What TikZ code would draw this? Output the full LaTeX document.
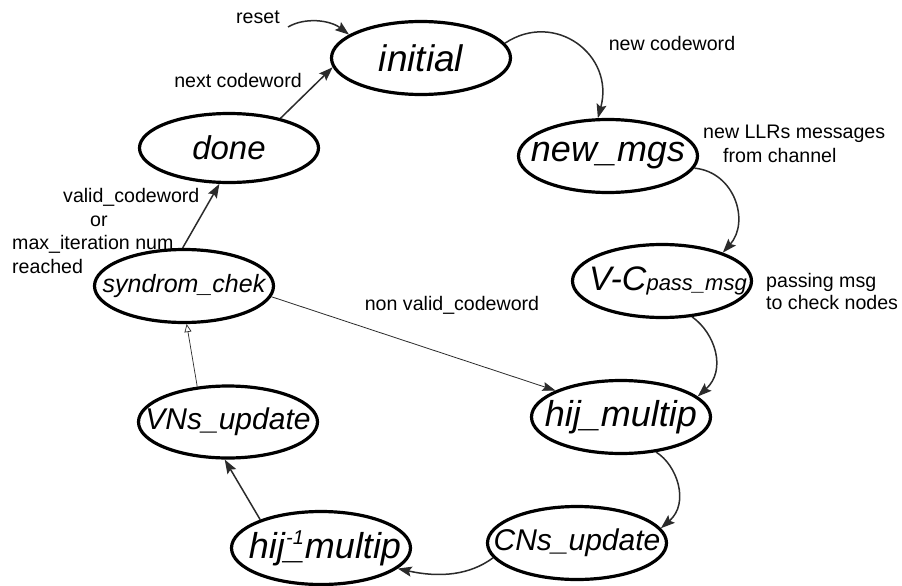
\documentclass[tikz,border=0pt]{standalone}
\usepackage{fontspec}
\setmainfont{Liberation Sans}
\usetikzlibrary{shapes.geometric,arrows.meta}
\definecolor{edgec}{HTML}{2B2B2B}
\newcommand{\stxt}[2]{\makebox[0pt][c]{\fontsize{#1}{#1}\selectfont #2}}
\begin{document}
\begin{tikzpicture}[x=1pt,y=-1pt,
  st/.style={ellipse,draw=black,line width=3.2pt,minimum width=179pt,minimum height=73pt,inner sep=0pt,font=\itshape},
  ed/.style={draw=edgec,line width=1.5pt,-{Stealth[length=14pt,width=10pt,inset=2.5pt]}},
  thined/.style={draw=edgec,line width=0.8pt,-{Stealth[length=13pt,width=9pt,inset=2pt]}},
  opened/.style={draw=edgec,line width=0.7pt,-{Triangle[open,length=8pt,width=7pt]}},
  lab/.style={font=\fontsize{19.6}{23.5}\selectfont,inner sep=0pt,text=black}]
\useasboundingbox (0,0) rectangle (902,586);
\fill[white] (0,0) rectangle (902,586);
% states
\node[st] (initial) at (421,58) {\stxt{37}{initial}};
\node[st,minimum height=69pt] (done) at (229,148) {\stxt{33}{done}};
\node[st] (newmgs) at (608,156) {\stxt{36}{new\_mgs}};
\node[st] (vc) at (662,281) {\makebox[0pt][c]{\hspace*{12pt}\fontsize{34}{38}\selectfont V-C\fontsize{22}{24}\selectfont pass\_msg}};
\node[st] (hij) at (621,417) {\stxt{36}{hij\_multip}};
\node[st] (cns) at (577,543) {\stxt{30}{CNs\_update}};
\node[st] (hinv) at (321,548) {\makebox[0pt][c]{\hspace*{8pt}\fontsize{36}{40}\selectfont hij\rlap{\_}\makebox[20pt][c]{\raisebox{14pt}{\fontsize{20}{20}\selectfont -1}}multip}};
\node[st,minimum height=72pt] (vns) at (228,422) {\stxt{30}{VNs\_update}};
\node[st] (syn) at (184,286) {\stxt{25}{syndrom\_chek}};
% labels
\node[lab] (lreset) at (258,17) {reset};
\coordinate (rs) at (288,27);
\node[lab] (lnext) at (238,80) {next codeword};
\node[lab] (lnewcw) at (672,43) {new codeword};
\node[lab,anchor=west,align=left,font=\fontsize{19.6}{24}\selectfont] (lllr) at (703,144) {new LLRs messages\\\hspace*{20pt}from channel};
\node[lab,anchor=west,align=left,font=\fontsize{19.6}{22}\selectfont] (lpass) at (766,291) {passing msg\\to check nodes};
\node[lab,anchor=west,align=left] (lvalid) at (12,231) {\hspace*{51pt}valid\_codeword\\\hspace*{78pt}or\\max\_iteration num\\reached};
\node[lab] (lnon) at (452,305) {non valid\_codeword};
% transitions
\draw[ed] (rs) .. controls (305,17) and (330,20) .. (initial.162);
\draw[ed] (done.30) -- (initial.186);
\draw[ed] (initial.10) .. controls (555,10) and (615,55) .. (newmgs.105);
\draw[ed] (newmgs.-8) .. controls (735,172) and (750,222) .. (vc.25);
\draw[ed] (vc.-50) .. controls (715,333) and (727,370) .. (hij.15);
\draw[ed] (hij.-45) .. controls (677,465) and (690,503) .. (cns.10);
\draw[ed] (cns.190) .. controls (470,575) and (440,578) .. (hinv.-15);
\draw[ed] (hinv.155) -- (vns.-95);
\draw[opened] (vns.131) -- (syn.-86);
\draw[ed] (syn.92) -- (done.-105);
\draw[thined] (syn.-7) -- (hij.158);
\end{tikzpicture}
\end{document}
